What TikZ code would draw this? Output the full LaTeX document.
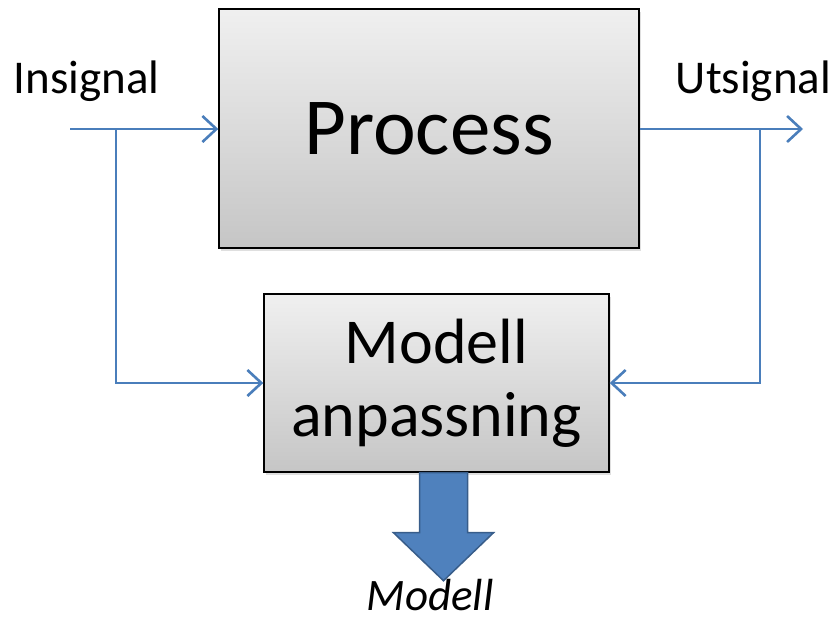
\documentclass[tikz,border=0pt]{standalone}
\usepackage{fontspec}
\setmainfont{Carlito}
\usetikzlibrary{arrows.meta,shadows,calc}
\definecolor{sigblue}{HTML}{4A7EBB}
\definecolor{arrowfill}{HTML}{4F81BD}
\definecolor{arrowedge}{HTML}{385D8A}
\tikzset{
  blockbox/.style={draw=black, line width=1.4pt, top color=gray!12, bottom color=gray!45,
    drop shadow={shadow xshift=2pt, shadow yshift=-3pt, opacity=0.25}},
  signal/.style={draw=sigblue, line width=2.6pt},
  sigarrow/.style={signal, -{Straight Barb[length=14pt,width=26pt,line width=2.6pt]}},
  siglabel/.style={font=\fontsize{47}{50}\selectfont, anchor=base},
}
\begin{document}
\begin{tikzpicture}[x=1pt,y=-1pt]
\useasboundingbox (0,0) rectangle (832,619);
% blocks
\node[blockbox, minimum width=420pt, minimum height=239pt, inner sep=0pt,
  font=\fontsize{81}{90}\selectfont] (proc) at (429,128.5) {\raisebox{-3pt}{Process}};
\node[blockbox, minimum width=345pt, minimum height=178pt, inner sep=0pt, align=center,
  font=\fontsize{64}{73}\selectfont] (model) at (436.5,383) {Modell\\anpassning};
% signal labels
\node[siglabel] (insig) at (86.5,93) {Insignal};
\node[siglabel] (utsig) at (753.5,93) {Utsignal};
\node[siglabel, font=\fontsize{45}{48}\selectfont\itshape, inner sep=0pt, text depth=0pt]
  (mout) at (430,610) {Modell};
% junction points
\coordinate (inL) at (70,129);
\coordinate (inJ) at (116,129);
\coordinate (outJ) at (760,129);
\coordinate (outR) at (803,129);
% input path
\draw[sigarrow] (inL) -- (inL -| proc.west);
\draw[sigarrow] (inJ) |- (model.west);
% output path
\draw[sigarrow] (proc.east |- outR) -- (outR);
\draw[sigarrow] (outJ) |- (model.east);
% model output block arrow
\coordinate (ba) at ($(model.south)+(7,0)$);
\draw[fill=arrowfill, draw=arrowedge, line width=1.5pt, line join=miter]
  ($(ba)+(-24,0)$) -- ($(ba)+(-24,60)$) -- ($(ba)+(-50,60)$) -- ($(ba)+(0,108)$)
  -- ($(ba)+(50,60)$) -- ($(ba)+(24,60)$) -- ($(ba)+(24,0)$) -- cycle;
\end{tikzpicture}
\end{document}
